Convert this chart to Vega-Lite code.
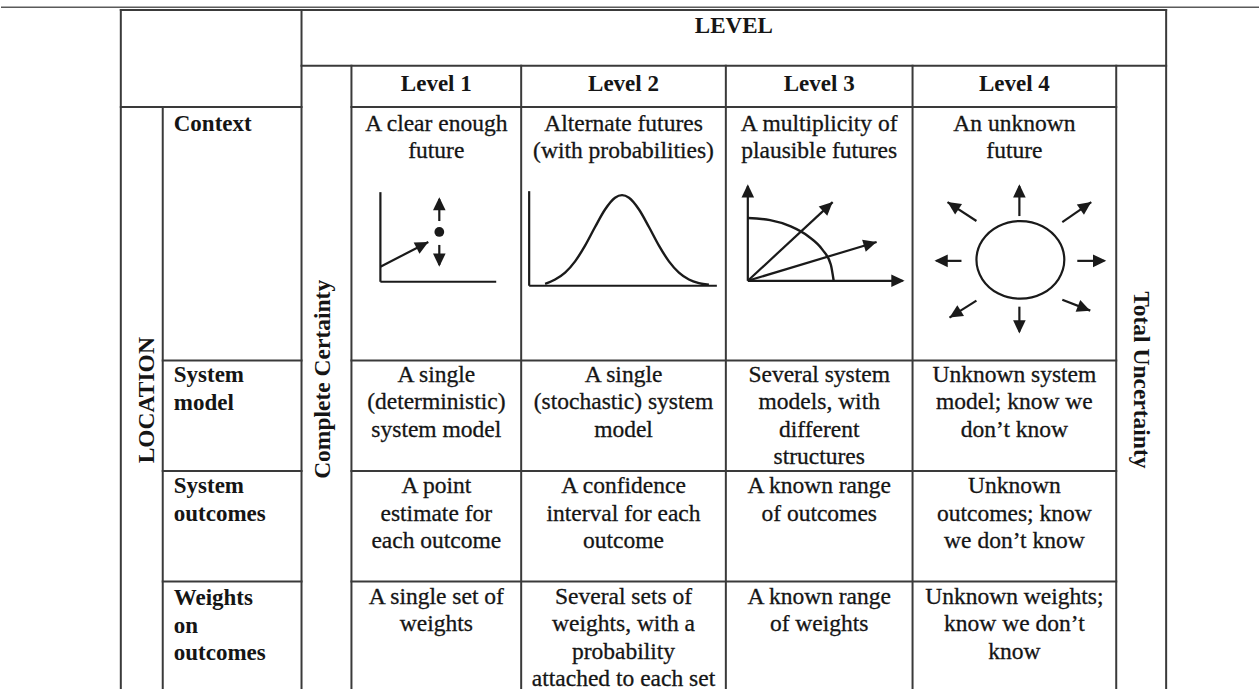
{
  "$schema": "https://vega.github.io/schema/vega-lite/v6.json",
  "width": 1260,
  "height": 691,
  "autosize": {"type": "fit", "contains": "padding"},
  "padding": 0,
  "background": "white",
  "config": {"view": {"stroke": null}},
  "datasets": {
    "grid": [
      {"x": 0, "y": 7.3, "x2": 1260, "y2": 7.3, "kind": "page"},
      {"x": 120, "y": 10, "x2": 1167, "y2": 10, "kind": "table"},
      {"x": 120, "y": 10, "x2": 120, "y2": 691, "kind": "table"},
      {"x": 1167, "y": 10, "x2": 1167, "y2": 691, "kind": "table"},
      {"x": 301, "y": 10, "x2": 301, "y2": 691, "kind": "table"},
      {"x": 301, "y": 66, "x2": 1167, "y2": 66, "kind": "table"},
      {"x": 351, "y": 66, "x2": 351, "y2": 691, "kind": "table"},
      {"x": 1117, "y": 66, "x2": 1117, "y2": 691, "kind": "table"},
      {"x": 521, "y": 66, "x2": 521, "y2": 691, "kind": "table"},
      {"x": 726, "y": 66, "x2": 726, "y2": 691, "kind": "table"},
      {"x": 913, "y": 66, "x2": 913, "y2": 691, "kind": "table"},
      {"x": 120, "y": 107.5, "x2": 301, "y2": 107.5, "kind": "table"},
      {"x": 351, "y": 107.5, "x2": 1117, "y2": 107.5, "kind": "table"},
      {"x": 162, "y": 107.5, "x2": 162, "y2": 691, "kind": "table"},
      {"x": 162, "y": 362, "x2": 301, "y2": 362, "kind": "table"},
      {"x": 351, "y": 362, "x2": 1117, "y2": 362, "kind": "table"},
      {"x": 162, "y": 473, "x2": 301, "y2": 473, "kind": "table"},
      {"x": 351, "y": 473, "x2": 1117, "y2": 473, "kind": "table"},
      {"x": 162, "y": 584, "x2": 301, "y2": 584, "kind": "table"},
      {"x": 351, "y": 584, "x2": 1117, "y2": 584, "kind": "table"}
    ],
    "segments": [
      {"x": 380, "y": 193, "x2": 380, "y2": 283},
      {"x": 380, "y": 283, "x2": 496, "y2": 283},
      {"x": 380, "y": 268, "x2": 428, "y2": 243},
      {"x": 439, "y": 222, "x2": 439, "y2": 200},
      {"x": 439, "y": 246, "x2": 439, "y2": 266},
      {"x": 529, "y": 192, "x2": 529, "y2": 287},
      {"x": 529, "y": 287, "x2": 717, "y2": 287},
      {"x": 748, "y": 282, "x2": 748, "y2": 187},
      {"x": 748, "y": 282, "x2": 903, "y2": 282},
      {"x": 748, "y": 282, "x2": 833, "y2": 203},
      {"x": 748, "y": 282, "x2": 877, "y2": 243},
      {"x": 1020, "y": 217, "x2": 1020, "y2": 187},
      {"x": 1020, "y": 308, "x2": 1020, "y2": 333},
      {"x": 962, "y": 262, "x2": 937, "y2": 262},
      {"x": 1078, "y": 262, "x2": 1105, "y2": 262},
      {"x": 977, "y": 222, "x2": 948, "y2": 203},
      {"x": 1063, "y": 223, "x2": 1092, "y2": 203},
      {"x": 977, "y": 302, "x2": 950, "y2": 319},
      {"x": 1063, "y": 301, "x2": 1091, "y2": 312}
    ],
    "heads": [
      {"x": 439, "y": 198, "angle": 0},
      {"x": 439, "y": 268, "angle": 180},
      {"x": 428, "y": 243, "angle": 62.5},
      {"x": 748, "y": 185, "angle": 0},
      {"x": 905, "y": 282, "angle": 90},
      {"x": 833, "y": 203, "angle": 47.1},
      {"x": 877, "y": 243, "angle": 73.2},
      {"x": 1020, "y": 185, "angle": 0},
      {"x": 1020, "y": 335, "angle": 180},
      {"x": 935, "y": 262, "angle": 270},
      {"x": 1107, "y": 262, "angle": 90},
      {"x": 948, "y": 203, "angle": 303.2},
      {"x": 1092, "y": 203, "angle": 55.4},
      {"x": 950, "y": 319, "angle": 237.8},
      {"x": 1091, "y": 312, "angle": 111.4}
    ],
    "dots": [
      {"x": 439, "y": 233}
    ],
    "curves": [
      {"curve": "bell", "o": 0, "x": 545, "y": 285},
      {"curve": "bell", "o": 1, "x": 555, "y": 280.7},
      {"curve": "bell", "o": 2, "x": 565, "y": 273.8},
      {"curve": "bell", "o": 3, "x": 575, "y": 262.5},
      {"curve": "bell", "o": 4, "x": 585, "y": 246.7},
      {"curve": "bell", "o": 5, "x": 595, "y": 228},
      {"curve": "bell", "o": 6, "x": 605, "y": 210.4},
      {"curve": "bell", "o": 7, "x": 615, "y": 198.6},
      {"curve": "bell", "o": 8, "x": 622, "y": 196},
      {"curve": "bell", "o": 9, "x": 629, "y": 198.6},
      {"curve": "bell", "o": 10, "x": 639, "y": 210.4},
      {"curve": "bell", "o": 11, "x": 649, "y": 228},
      {"curve": "bell", "o": 12, "x": 659, "y": 246.7},
      {"curve": "bell", "o": 13, "x": 669, "y": 262.5},
      {"curve": "bell", "o": 14, "x": 679, "y": 273.8},
      {"curve": "bell", "o": 15, "x": 689, "y": 280.7},
      {"curve": "bell", "o": 16, "x": 699, "y": 284.3},
      {"curve": "bell", "o": 17, "x": 709, "y": 286},
      {"curve": "arc", "o": 0, "x": 834, "y": 282},
      {"curve": "arc", "o": 1, "x": 831.1, "y": 265.7},
      {"curve": "arc", "o": 2, "x": 822.5, "y": 250.5},
      {"curve": "arc", "o": 3, "x": 808.8, "y": 237.5},
      {"curve": "arc", "o": 4, "x": 791, "y": 227.4},
      {"curve": "arc", "o": 5, "x": 770.3, "y": 221.1},
      {"curve": "arc", "o": 6, "x": 748, "y": 219}
    ],
    "ring": [
      {"o": 0, "x": 1065, "y": 261},
      {"o": 1, "x": 1059.1, "y": 241.5},
      {"o": 2, "x": 1043, "y": 227.2},
      {"o": 3, "x": 1021, "y": 222},
      {"o": 4, "x": 999, "y": 227.2},
      {"o": 5, "x": 982.9, "y": 241.5},
      {"o": 6, "x": 977, "y": 261},
      {"o": 7, "x": 982.9, "y": 280.5},
      {"o": 8, "x": 999, "y": 294.8},
      {"o": 9, "x": 1021, "y": 300},
      {"o": 10, "x": 1043, "y": 294.8},
      {"o": 11, "x": 1059.1, "y": 280.5}
    ],
    "labels": [
      {"x": 734, "y": 33.5, "text": "LEVEL", "kind": "head"},
      {"x": 436, "y": 91.5, "text": "Level 1", "kind": "head"},
      {"x": 623.5, "y": 91.5, "text": "Level 2", "kind": "head"},
      {"x": 819.5, "y": 91.5, "text": "Level 3", "kind": "head"},
      {"x": 1015, "y": 91.5, "text": "Level 4", "kind": "head"},
      {"x": 173, "y": 131.5, "text": "Context", "kind": "row"},
      {"x": 173, "y": 383.5, "text": "System\nmodel", "kind": "row"},
      {"x": 173, "y": 495.5, "text": "System\noutcomes", "kind": "row"},
      {"x": 173, "y": 607.5, "text": "Weights\non\noutcomes", "kind": "row"},
      {"x": 436, "y": 131.5, "text": "A clear enough\nfuture", "kind": "cell"},
      {"x": 623.5, "y": 131.5, "text": "Alternate futures\n(with probabilities)", "kind": "cell"},
      {"x": 819.5, "y": 131.5, "text": "A multiplicity of\nplausible futures", "kind": "cell"},
      {"x": 1015, "y": 131.5, "text": "An unknown\nfuture", "kind": "cell"},
      {"x": 436, "y": 383.5, "text": "A single\n(deterministic)\nsystem model", "kind": "cell"},
      {"x": 623.5, "y": 383.5, "text": "A single\n(stochastic) system\nmodel", "kind": "cell"},
      {"x": 819.5, "y": 383.5, "text": "Several system\nmodels, with\ndifferent\nstructures", "kind": "cell"},
      {"x": 1015, "y": 383.5, "text": "Unknown system\nmodel; know we\ndon’t know", "kind": "cell"},
      {"x": 436, "y": 495.5, "text": "A point\nestimate for\neach outcome", "kind": "cell"},
      {"x": 623.5, "y": 495.5, "text": "A confidence\ninterval for each\noutcome", "kind": "cell"},
      {"x": 819.5, "y": 495.5, "text": "A known range\nof outcomes", "kind": "cell"},
      {"x": 1015, "y": 495.5, "text": "Unknown\noutcomes; know\nwe don’t know", "kind": "cell"},
      {"x": 436, "y": 606.5, "text": "A single set of\nweights", "kind": "cell"},
      {"x": 623.5, "y": 606.5, "text": "Several sets of\nweights, with a\nprobability\nattached to each set", "kind": "cell"},
      {"x": 819.5, "y": 606.5, "text": "A known range\nof weights", "kind": "cell"},
      {"x": 1015, "y": 606.5, "text": "Unknown weights;\nknow we don’t\nknow", "kind": "cell"},
      {"x": 146, "y": 402, "text": "LOCATION", "kind": "up"},
      {"x": 323, "y": 381, "text": "Complete Certainty", "kind": "up"},
      {"x": 1142, "y": 381.5, "text": "Total Uncertainty", "kind": "down"}
    ]
  },
  "encoding": {
    "x": {"field": "x", "type": "quantitative", "axis": null, "scale": {"domain": [0, 1260], "nice": false, "zero": false}},
    "y": {"field": "y", "type": "quantitative", "axis": null, "scale": {"domain": [0, 691], "reverse": true, "nice": false, "zero": false}}
  },
  "layer": [
    {
      "data": {"name": "grid"},
      "transform": [{"filter": "datum.kind === 'page'"}],
      "mark": {"type": "rule", "stroke": "#5a5a5a", "strokeWidth": 1.5},
      "encoding": {"x2": {"field": "x2"}, "y2": {"field": "y2"}}
    },
    {
      "data": {"name": "grid"},
      "transform": [{"filter": "datum.kind === 'table'"}],
      "mark": {"type": "rule", "stroke": "#3a3a3a", "strokeWidth": 2, "strokeCap": "square"},
      "encoding": {"x2": {"field": "x2"}, "y2": {"field": "y2"}}
    },
    {
      "data": {"name": "segments"},
      "mark": {"type": "rule", "stroke": "#1a1a1a", "strokeWidth": 2.2},
      "encoding": {"x2": {"field": "x2"}, "y2": {"field": "y2"}}
    },
    {
      "data": {"name": "curves"},
      "mark": {"type": "line", "stroke": "#1a1a1a", "strokeWidth": 2.4, "interpolate": "monotone"},
      "encoding": {"detail": {"field": "curve"}, "order": {"field": "o"}}
    },
    {
      "data": {"name": "ring"},
      "mark": {"type": "line", "stroke": "#1a1a1a", "strokeWidth": 2.2, "interpolate": "cardinal-closed"},
      "encoding": {"order": {"field": "o"}}
    },
    {
      "data": {"name": "heads"},
      "mark": {"type": "point", "shape": "M0,0L0.95,2L-0.95,2Z", "filled": true, "color": "#1a1a1a", "opacity": 1, "size": 175},
      "encoding": {"angle": {"field": "angle", "type": "quantitative", "scale": null}}
    },
    {
      "data": {"name": "dots"},
      "mark": {"type": "point", "shape": "circle", "filled": true, "color": "#1a1a1a", "opacity": 1, "size": 95}
    },
    {
      "data": {"name": "labels"},
      "transform": [{"filter": "datum.kind === 'head'"}],
      "mark": {"type": "text", "font": "Liberation Serif", "fontSize": 23, "fontWeight": "bold", "align": "center", "baseline": "alphabetic", "color": "#151515"},
      "encoding": {"text": {"field": "text"}}
    },
    {
      "data": {"name": "labels"},
      "transform": [{"filter": "datum.kind === 'row'"}],
      "mark": {"type": "text", "font": "Liberation Serif", "fontSize": 23, "fontWeight": "bold", "align": "left", "baseline": "alphabetic", "lineBreak": "\n", "lineHeight": 27.8, "color": "#151515"},
      "encoding": {"text": {"field": "text"}}
    },
    {
      "data": {"name": "labels"},
      "transform": [{"filter": "datum.kind === 'cell'"}],
      "mark": {"type": "text", "font": "Liberation Serif", "fontSize": 23.5, "align": "center", "baseline": "alphabetic", "lineBreak": "\n", "lineHeight": 27.5, "color": "#151515", "stroke": "#151515", "strokeWidth": 0.3},
      "encoding": {"text": {"field": "text"}}
    },
    {
      "data": {"name": "labels"},
      "transform": [{"filter": "datum.kind === 'up'"}],
      "mark": {"type": "text", "font": "Liberation Serif", "fontSize": 23.5, "fontWeight": "bold", "align": "center", "baseline": "middle", "angle": 270, "color": "#151515"},
      "encoding": {"text": {"field": "text"}}
    },
    {
      "data": {"name": "labels"},
      "transform": [{"filter": "datum.kind === 'down'"}],
      "mark": {"type": "text", "font": "Liberation Serif", "fontSize": 23.5, "fontWeight": "bold", "align": "center", "baseline": "middle", "angle": 90, "color": "#151515"},
      "encoding": {"text": {"field": "text"}}
    }
  ]
}
